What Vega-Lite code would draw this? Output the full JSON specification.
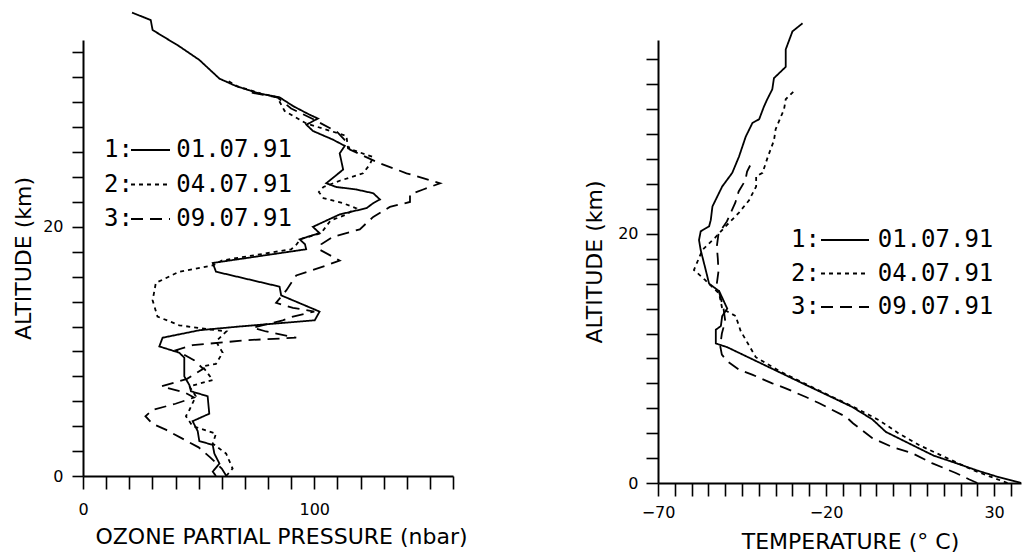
{
  "$schema": "https://vega.github.io/schema/vega-lite/v6.json",
  "background": "white",
  "padding": {"left": 12, "top": 8, "right": 0, "bottom": 0},
  "bounds": "flush",
  "spacing": 205,
  "config": {
    "view": {"stroke": null},
    "axis": {
      "grid": false,
      "domainColor": "black",
      "domainWidth": 2,
      "tickColor": "black",
      "tickWidth": 1.6,
      "labelColor": "black",
      "titleColor": "black",
      "labelFont": "DejaVu Sans",
      "titleFont": "DejaVu Sans",
      "labelFontSize": 16,
      "titleFontSize": 22,
      "titleFontWeight": "normal",
      "labelFlush": false,
      "labelOverlap": false
    },
    "legend": {
      "orient": "none",
      "title": null,
      "padding": 0,
      "symbolType": "M-3,0H3",
      "symbolStrokeWidth": 1.8,
      "symbolStrokeColor": "black",
      "symbolFillColor": "transparent",
      "labelFont": "DejaVu Sans Mono",
      "labelFontSize": 24,
      "labelColor": "black",
      "labelLimit": 0
    }
  },
  "datasets": {
    "ozone": [
      {"s": "01.07.91", "alt": 37.2, "v": 21.2},
      {"s": "01.07.91", "alt": 36.6, "v": 29.3},
      {"s": "01.07.91", "alt": 35.8, "v": 30.1},
      {"s": "01.07.91", "alt": 34.5, "v": 41.6},
      {"s": "01.07.91", "alt": 33.4, "v": 50.3},
      {"s": "01.07.91", "alt": 31.9, "v": 59.0},
      {"s": "01.07.91", "alt": 31.3, "v": 66.2},
      {"s": "01.07.91", "alt": 30.7, "v": 76.3},
      {"s": "01.07.91", "alt": 30.4, "v": 85.0},
      {"s": "01.07.91", "alt": 29.7, "v": 90.8},
      {"s": "01.07.91", "alt": 29.0, "v": 98.0},
      {"s": "01.07.91", "alt": 28.7, "v": 101.6},
      {"s": "01.07.91", "alt": 28.2, "v": 96.6},
      {"s": "01.07.91", "alt": 27.7, "v": 99.4},
      {"s": "01.07.91", "alt": 27.0, "v": 108.1},
      {"s": "01.07.91", "alt": 26.5, "v": 113.2},
      {"s": "01.07.91", "alt": 25.9, "v": 111.0},
      {"s": "01.07.91", "alt": 24.6, "v": 112.5},
      {"s": "01.07.91", "alt": 23.5, "v": 105.2},
      {"s": "01.07.91", "alt": 23.2, "v": 109.5},
      {"s": "01.07.91", "alt": 23.0, "v": 118.2},
      {"s": "01.07.91", "alt": 22.7, "v": 125.5},
      {"s": "01.07.91", "alt": 22.2, "v": 128.4},
      {"s": "01.07.91", "alt": 21.9, "v": 125.5},
      {"s": "01.07.91", "alt": 21.5, "v": 122.6},
      {"s": "01.07.91", "alt": 21.0, "v": 111.0},
      {"s": "01.07.91", "alt": 20.0, "v": 99.4},
      {"s": "01.07.91", "alt": 19.5, "v": 102.3},
      {"s": "01.07.91", "alt": 19.0, "v": 93.7},
      {"s": "01.07.91", "alt": 18.6, "v": 96.0},
      {"s": "01.07.91", "alt": 18.2, "v": 96.5},
      {"s": "01.07.91", "alt": 17.1, "v": 56.1},
      {"s": "01.07.91", "alt": 16.4, "v": 57.5},
      {"s": "01.07.91", "alt": 15.2, "v": 85.0},
      {"s": "01.07.91", "alt": 14.5, "v": 85.7},
      {"s": "01.07.91", "alt": 13.2, "v": 102.3},
      {"s": "01.07.91", "alt": 12.5, "v": 100.2},
      {"s": "01.07.91", "alt": 12.0, "v": 67.6},
      {"s": "01.07.91", "alt": 11.7, "v": 50.3},
      {"s": "01.07.91", "alt": 11.1, "v": 34.4},
      {"s": "01.07.91", "alt": 10.4, "v": 33.0},
      {"s": "01.07.91", "alt": 9.9, "v": 41.6},
      {"s": "01.07.91", "alt": 9.5, "v": 43.8},
      {"s": "01.07.91", "alt": 8.0, "v": 43.8},
      {"s": "01.07.91", "alt": 7.3, "v": 46.0},
      {"s": "01.07.91", "alt": 6.8, "v": 46.7},
      {"s": "01.07.91", "alt": 6.4, "v": 53.9},
      {"s": "01.07.91", "alt": 5.0, "v": 54.6},
      {"s": "01.07.91", "alt": 4.4, "v": 47.4},
      {"s": "01.07.91", "alt": 3.6, "v": 49.6},
      {"s": "01.07.91", "alt": 2.8, "v": 50.3},
      {"s": "01.07.91", "alt": 2.5, "v": 56.1},
      {"s": "01.07.91", "alt": 1.8, "v": 56.8},
      {"s": "01.07.91", "alt": 1.0, "v": 59.0},
      {"s": "01.07.91", "alt": 0.35, "v": 56.1},
      {"s": "01.07.91", "alt": 0.0, "v": 57.5},

      {"s": "04.07.91", "alt": 31.8, "v": 62.0},
      {"s": "04.07.91", "alt": 31.3, "v": 66.5},
      {"s": "04.07.91", "alt": 30.7, "v": 77.0},
      {"s": "04.07.91", "alt": 30.4, "v": 84.0},
      {"s": "04.07.91", "alt": 29.3, "v": 87.2},
      {"s": "04.07.91", "alt": 28.3, "v": 96.6},
      {"s": "04.07.91", "alt": 27.3, "v": 113.9},
      {"s": "04.07.91", "alt": 26.3, "v": 114.6},
      {"s": "04.07.91", "alt": 25.6, "v": 125.5},
      {"s": "04.07.91", "alt": 25.0, "v": 124.0},
      {"s": "04.07.91", "alt": 24.3, "v": 121.1},
      {"s": "04.07.91", "alt": 23.7, "v": 111.0},
      {"s": "04.07.91", "alt": 23.2, "v": 104.0},
      {"s": "04.07.91", "alt": 22.8, "v": 102.0},
      {"s": "04.07.91", "alt": 22.3, "v": 104.0},
      {"s": "04.07.91", "alt": 21.9, "v": 112.5},
      {"s": "04.07.91", "alt": 21.5, "v": 118.0},
      {"s": "04.07.91", "alt": 21.0, "v": 114.0},
      {"s": "04.07.91", "alt": 20.5, "v": 107.0},
      {"s": "04.07.91", "alt": 20.0, "v": 105.0},
      {"s": "04.07.91", "alt": 19.5, "v": 103.0},
      {"s": "04.07.91", "alt": 19.0, "v": 94.0},
      {"s": "04.07.91", "alt": 18.5, "v": 92.0},
      {"s": "04.07.91", "alt": 18.2, "v": 90.0},
      {"s": "04.07.91", "alt": 17.3, "v": 60.0},
      {"s": "04.07.91", "alt": 16.9, "v": 56.1},
      {"s": "04.07.91", "alt": 16.4, "v": 41.6},
      {"s": "04.07.91", "alt": 15.5, "v": 31.5},
      {"s": "04.07.91", "alt": 14.1, "v": 30.1},
      {"s": "04.07.91", "alt": 12.8, "v": 32.2},
      {"s": "04.07.91", "alt": 12.1, "v": 41.6},
      {"s": "04.07.91", "alt": 11.8, "v": 53.2},
      {"s": "04.07.91", "alt": 11.6, "v": 62.0},
      {"s": "04.07.91", "alt": 10.8, "v": 57.5},
      {"s": "04.07.91", "alt": 9.9, "v": 60.4},
      {"s": "04.07.91", "alt": 9.0, "v": 57.5},
      {"s": "04.07.91", "alt": 8.8, "v": 51.7},
      {"s": "04.07.91", "alt": 7.7, "v": 56.1},
      {"s": "04.07.91", "alt": 7.2, "v": 46.0},
      {"s": "04.07.91", "alt": 6.4, "v": 48.8},
      {"s": "04.07.91", "alt": 5.3, "v": 46.0},
      {"s": "04.07.91", "alt": 4.8, "v": 44.5},
      {"s": "04.07.91", "alt": 4.0, "v": 47.4},
      {"s": "04.07.91", "alt": 3.4, "v": 57.5},
      {"s": "04.07.91", "alt": 2.6, "v": 56.1},
      {"s": "04.07.91", "alt": 1.8, "v": 61.9},
      {"s": "04.07.91", "alt": 0.6, "v": 64.7},
      {"s": "04.07.91", "alt": 0.0, "v": 61.9},

      {"s": "09.07.91", "alt": 30.8, "v": 72.0},
      {"s": "09.07.91", "alt": 30.4, "v": 84.0},
      {"s": "09.07.91", "alt": 29.5, "v": 90.0},
      {"s": "09.07.91", "alt": 28.6, "v": 100.0},
      {"s": "09.07.91", "alt": 27.6, "v": 110.0},
      {"s": "09.07.91", "alt": 26.8, "v": 114.0},
      {"s": "09.07.91", "alt": 26.2, "v": 115.4},
      {"s": "09.07.91", "alt": 25.1, "v": 128.4},
      {"s": "09.07.91", "alt": 24.3, "v": 139.9},
      {"s": "09.07.91", "alt": 23.5, "v": 154.4},
      {"s": "09.07.91", "alt": 23.0, "v": 147.1},
      {"s": "09.07.91", "alt": 22.6, "v": 141.4},
      {"s": "09.07.91", "alt": 22.0, "v": 141.4},
      {"s": "09.07.91", "alt": 21.6, "v": 132.7},
      {"s": "09.07.91", "alt": 20.8, "v": 125.5},
      {"s": "09.07.91", "alt": 19.8, "v": 119.7},
      {"s": "09.07.91", "alt": 19.2, "v": 108.1},
      {"s": "09.07.91", "alt": 18.6, "v": 103.0},
      {"s": "09.07.91", "alt": 18.2, "v": 102.0},
      {"s": "09.07.91", "alt": 17.3, "v": 111.0},
      {"s": "09.07.91", "alt": 16.9, "v": 105.2},
      {"s": "09.07.91", "alt": 16.1, "v": 92.2},
      {"s": "09.07.91", "alt": 14.9, "v": 87.9},
      {"s": "09.07.91", "alt": 13.9, "v": 83.5},
      {"s": "09.07.91", "alt": 13.5, "v": 90.8},
      {"s": "09.07.91", "alt": 13.2, "v": 100.0},
      {"s": "09.07.91", "alt": 12.8, "v": 90.8},
      {"s": "09.07.91", "alt": 12.5, "v": 86.4},
      {"s": "09.07.91", "alt": 11.9, "v": 73.4},
      {"s": "09.07.91", "alt": 11.6, "v": 79.2},
      {"s": "09.07.91", "alt": 11.1, "v": 92.2},
      {"s": "09.07.91", "alt": 10.9, "v": 70.5},
      {"s": "09.07.91", "alt": 10.5, "v": 47.4},
      {"s": "09.07.91", "alt": 10.1, "v": 40.2},
      {"s": "09.07.91", "alt": 9.3, "v": 48.0},
      {"s": "09.07.91", "alt": 8.6, "v": 52.0},
      {"s": "09.07.91", "alt": 7.8, "v": 45.0},
      {"s": "09.07.91", "alt": 7.2, "v": 34.0},
      {"s": "09.07.91", "alt": 6.7, "v": 44.0},
      {"s": "09.07.91", "alt": 6.3, "v": 48.0},
      {"s": "09.07.91", "alt": 5.8, "v": 40.0},
      {"s": "09.07.91", "alt": 5.3, "v": 30.0},
      {"s": "09.07.91", "alt": 4.8, "v": 27.0},
      {"s": "09.07.91", "alt": 4.2, "v": 30.0},
      {"s": "09.07.91", "alt": 3.7, "v": 36.0},
      {"s": "09.07.91", "alt": 3.0, "v": 43.0},
      {"s": "09.07.91", "alt": 2.3, "v": 50.0},
      {"s": "09.07.91", "alt": 1.5, "v": 55.0},
      {"s": "09.07.91", "alt": 0.6, "v": 60.0},
      {"s": "09.07.91", "alt": 0.0, "v": 62.0}
    ],
    "temp": [
      {"s": "01.07.91", "alt": 36.9, "t": -27.0},
      {"s": "01.07.91", "alt": 36.25, "t": -30.0},
      {"s": "01.07.91", "alt": 34.8, "t": -32.0},
      {"s": "01.07.91", "alt": 33.4, "t": -32.0},
      {"s": "01.07.91", "alt": 32.5, "t": -35.5},
      {"s": "01.07.91", "alt": 31.6, "t": -36.0},
      {"s": "01.07.91", "alt": 30.8, "t": -37.5},
      {"s": "01.07.91", "alt": 30.2, "t": -38.5},
      {"s": "01.07.91", "alt": 29.2, "t": -39.9},
      {"s": "01.07.91", "alt": 28.9, "t": -41.9},
      {"s": "01.07.91", "alt": 27.8, "t": -43.9},
      {"s": "01.07.91", "alt": 26.2, "t": -45.9},
      {"s": "01.07.91", "alt": 24.9, "t": -47.9},
      {"s": "01.07.91", "alt": 23.8, "t": -50.9},
      {"s": "01.07.91", "alt": 22.2, "t": -53.8},
      {"s": "01.07.91", "alt": 21.1, "t": -54.3},
      {"s": "01.07.91", "alt": 20.6, "t": -54.8},
      {"s": "01.07.91", "alt": 20.2, "t": -57.3},
      {"s": "01.07.91", "alt": 19.5, "t": -57.8},
      {"s": "01.07.91", "alt": 18.7, "t": -57.3},
      {"s": "01.07.91", "alt": 17.1, "t": -55.8},
      {"s": "01.07.91", "alt": 16.0, "t": -54.8},
      {"s": "01.07.91", "alt": 15.4, "t": -51.8},
      {"s": "01.07.91", "alt": 14.0, "t": -49.4},
      {"s": "01.07.91", "alt": 13.4, "t": -50.9},
      {"s": "01.07.91", "alt": 12.6, "t": -51.3},
      {"s": "01.07.91", "alt": 12.3, "t": -52.8},
      {"s": "01.07.91", "alt": 11.2, "t": -52.8},
      {"s": "01.07.91", "alt": 10.9, "t": -49.4},
      {"s": "01.07.91", "alt": 9.0, "t": -34.7},
      {"s": "01.07.91", "alt": 8.0, "t": -27.0},
      {"s": "01.07.91", "alt": 7.0, "t": -19.2},
      {"s": "01.07.91", "alt": 6.1, "t": -12.2},
      {"s": "01.07.91", "alt": 5.1, "t": -6.2},
      {"s": "01.07.91", "alt": 4.1, "t": -2.2},
      {"s": "01.07.91", "alt": 3.0, "t": 6.0},
      {"s": "01.07.91", "alt": 2.2, "t": 12.0},
      {"s": "01.07.91", "alt": 1.6, "t": 18.6},
      {"s": "01.07.91", "alt": 1.0, "t": 25.0},
      {"s": "01.07.91", "alt": 0.5, "t": 31.0},
      {"s": "01.07.91", "alt": 0.0, "t": 38.0},

      {"s": "04.07.91", "alt": 31.6, "t": -29.0},
      {"s": "04.07.91", "alt": 30.8, "t": -32.0},
      {"s": "04.07.91", "alt": 30.0, "t": -32.5},
      {"s": "04.07.91", "alt": 28.4, "t": -35.0},
      {"s": "04.07.91", "alt": 27.5, "t": -35.5},
      {"s": "04.07.91", "alt": 26.2, "t": -37.3},
      {"s": "04.07.91", "alt": 24.9, "t": -38.9},
      {"s": "04.07.91", "alt": 24.6, "t": -40.8},
      {"s": "04.07.91", "alt": 23.8, "t": -40.8},
      {"s": "04.07.91", "alt": 22.7, "t": -42.9},
      {"s": "04.07.91", "alt": 21.7, "t": -45.9},
      {"s": "04.07.91", "alt": 20.6, "t": -49.9},
      {"s": "04.07.91", "alt": 19.7, "t": -53.0},
      {"s": "04.07.91", "alt": 18.7, "t": -56.8},
      {"s": "04.07.91", "alt": 17.1, "t": -59.3},
      {"s": "04.07.91", "alt": 16.3, "t": -56.0},
      {"s": "04.07.91", "alt": 15.2, "t": -51.8},
      {"s": "04.07.91", "alt": 14.0, "t": -50.9},
      {"s": "04.07.91", "alt": 13.4, "t": -46.9},
      {"s": "04.07.91", "alt": 12.2, "t": -45.4},
      {"s": "04.07.91", "alt": 10.1, "t": -40.9},
      {"s": "04.07.91", "alt": 9.0, "t": -34.0},
      {"s": "04.07.91", "alt": 8.0, "t": -26.5},
      {"s": "04.07.91", "alt": 7.0, "t": -18.8},
      {"s": "04.07.91", "alt": 6.0, "t": -11.0},
      {"s": "04.07.91", "alt": 5.0, "t": -4.0},
      {"s": "04.07.91", "alt": 4.0, "t": 1.5},
      {"s": "04.07.91", "alt": 3.0, "t": 8.0},
      {"s": "04.07.91", "alt": 2.0, "t": 16.0},
      {"s": "04.07.91", "alt": 1.0, "t": 24.0},
      {"s": "04.07.91", "alt": 0.4, "t": 30.0},
      {"s": "04.07.91", "alt": 0.0, "t": 34.0},

      {"s": "09.07.91", "alt": 25.8, "t": -42.0},
      {"s": "09.07.91", "alt": 25.0, "t": -43.5},
      {"s": "09.07.91", "alt": 24.3, "t": -44.0},
      {"s": "09.07.91", "alt": 23.4, "t": -46.0},
      {"s": "09.07.91", "alt": 22.5, "t": -47.0},
      {"s": "09.07.91", "alt": 21.0, "t": -49.5},
      {"s": "09.07.91", "alt": 20.0, "t": -52.0},
      {"s": "09.07.91", "alt": 19.0, "t": -52.5},
      {"s": "09.07.91", "alt": 18.0, "t": -52.2},
      {"s": "09.07.91", "alt": 17.0, "t": -52.0},
      {"s": "09.07.91", "alt": 16.0, "t": -52.5},
      {"s": "09.07.91", "alt": 15.0, "t": -51.5},
      {"s": "09.07.91", "alt": 14.0, "t": -50.5},
      {"s": "09.07.91", "alt": 13.0, "t": -50.0},
      {"s": "09.07.91", "alt": 12.0, "t": -51.0},
      {"s": "09.07.91", "alt": 11.0, "t": -51.5},
      {"s": "09.07.91", "alt": 10.3, "t": -51.0},
      {"s": "09.07.91", "alt": 9.8, "t": -49.5},
      {"s": "09.07.91", "alt": 9.1, "t": -45.9},
      {"s": "09.07.91", "alt": 8.7, "t": -42.0},
      {"s": "09.07.91", "alt": 8.0, "t": -36.0},
      {"s": "09.07.91", "alt": 7.6, "t": -32.0},
      {"s": "09.07.91", "alt": 6.9, "t": -26.0},
      {"s": "09.07.91", "alt": 6.4, "t": -22.0},
      {"s": "09.07.91", "alt": 5.3, "t": -14.0},
      {"s": "09.07.91", "alt": 4.8, "t": -12.0},
      {"s": "09.07.91", "alt": 3.6, "t": -6.2},
      {"s": "09.07.91", "alt": 2.9, "t": -0.4},
      {"s": "09.07.91", "alt": 2.4, "t": 5.6},
      {"s": "09.07.91", "alt": 1.6, "t": 11.5},
      {"s": "09.07.91", "alt": 0.8, "t": 18.6},
      {"s": "09.07.91", "alt": 0.3, "t": 22.5},
      {"s": "09.07.91", "alt": 0.0, "t": 25.0}
    ]
  },
  "resolve": {"scale": {"strokeDash": "independent"}, "legend": {"strokeDash": "independent"}},
  "hconcat": [
    {
      "width": 370,
      "height": 436,
      "data": {"name": "ozone"},
      "mark": {"type": "line", "color": "black", "strokeWidth": 1.8},
      "encoding": {
        "x": {
          "field": "v", "type": "quantitative",
          "scale": {"domain": [0, 160], "nice": false, "zero": false},
          "axis": {
            "title": "OZONE PARTIAL PRESSURE (nbar)",
            "values": [0, 10, 20, 30, 40, 50, 60, 70, 80, 90, 100, 110, 120, 130, 140, 150, 160],
            "labelExpr": "datum.value == 0 || datum.value == 100 ? datum.label : ''",
            "tickSize": 13, "labelPadding": 12, "titlePadding": 9, "titleX": 198
          }
        },
        "y": {
          "field": "alt", "type": "quantitative",
          "scale": {"domain": [0, 35], "nice": false, "zero": false},
          "axis": {
            "title": "ALTITUDE (km)",
            "values": [0, 2, 4, 6, 8, 10, 12, 14, 16, 18, 20, 22, 24, 26, 28, 30, 32, 34],
            "labelExpr": "datum.value == 0 || datum.value == 20 ? datum.label : ''",
            "tickSize": 11, "labelPadding": 9, "titlePadding": 7
          }
        },
        "order": {"field": "alt", "type": "quantitative"},
        "strokeDash": {
          "field": "s", "type": "nominal",
          "scale": {"domain": ["01.07.91", "04.07.91", "09.07.91"], "range": [[1, 0], [4, 4], [12, 7]]},
          "legend": {
            "legendX": 21, "legendY": 98,
            "symbolSize": 169, "symbolOffset": 34.5, "labelOffset": -58.5, "rowPadding": 10.5,
            "labelExpr": "(datum.label == '01.07.91' ? '1:' : datum.label == '04.07.91' ? '2:' : '3:') + '\u00a0\u00a0\u00a0' + datum.label"
          }
        }
      }
    },
    {
      "width": 363,
      "height": 443,
      "data": {"name": "temp"},
      "mark": {"type": "line", "color": "black", "strokeWidth": 1.8},
      "encoding": {
        "x": {
          "field": "t", "type": "quantitative",
          "scale": {"domain": [-70, 38], "nice": false, "zero": false},
          "axis": {
            "title": "TEMPERATURE (° C)",
            "values": [-70, -65, -60, -55, -50, -45, -40, -35, -30, -25, -20, -15, -10, -5, 0, 5, 10, 15, 20, 25, 30, 35],
            "labelExpr": "datum.value == -70 || datum.value == -20 || datum.value == 30 ? datum.label : ''",
            "tickSize": 13, "labelPadding": 8, "titlePadding": 11, "titleX": 192
          }
        },
        "y": {
          "field": "alt", "type": "quantitative",
          "scale": {"domain": [0, 35.56], "nice": false, "zero": false},
          "axis": {
            "title": "ALTITUDE (km)",
            "values": [0, 2, 4, 6, 8, 10, 12, 14, 16, 18, 20, 22, 24, 26, 28, 30, 32, 34],
            "labelExpr": "datum.value == 0 || datum.value == 20 ? datum.label : ''",
            "tickSize": 12, "labelPadding": 8, "titlePadding": 11
          }
        },
        "order": {"field": "alt", "type": "quantitative"},
        "strokeDash": {
          "field": "s", "type": "nominal",
          "scale": {"domain": ["01.07.91", "04.07.91", "09.07.91"], "range": [[1, 0], [4, 4], [12, 7]]},
          "legend": {
            "legendX": 133, "legendY": 188,
            "symbolSize": 256, "symbolOffset": 42, "labelOffset": -66, "rowPadding": 9.5,
            "labelExpr": "(datum.label == '01.07.91' ? '1:' : datum.label == '04.07.91' ? '2:' : '3:') + '\u00a0\u00a0\u00a0\u00a0' + datum.label"
          }
        }
      }
    }
  ]
}
